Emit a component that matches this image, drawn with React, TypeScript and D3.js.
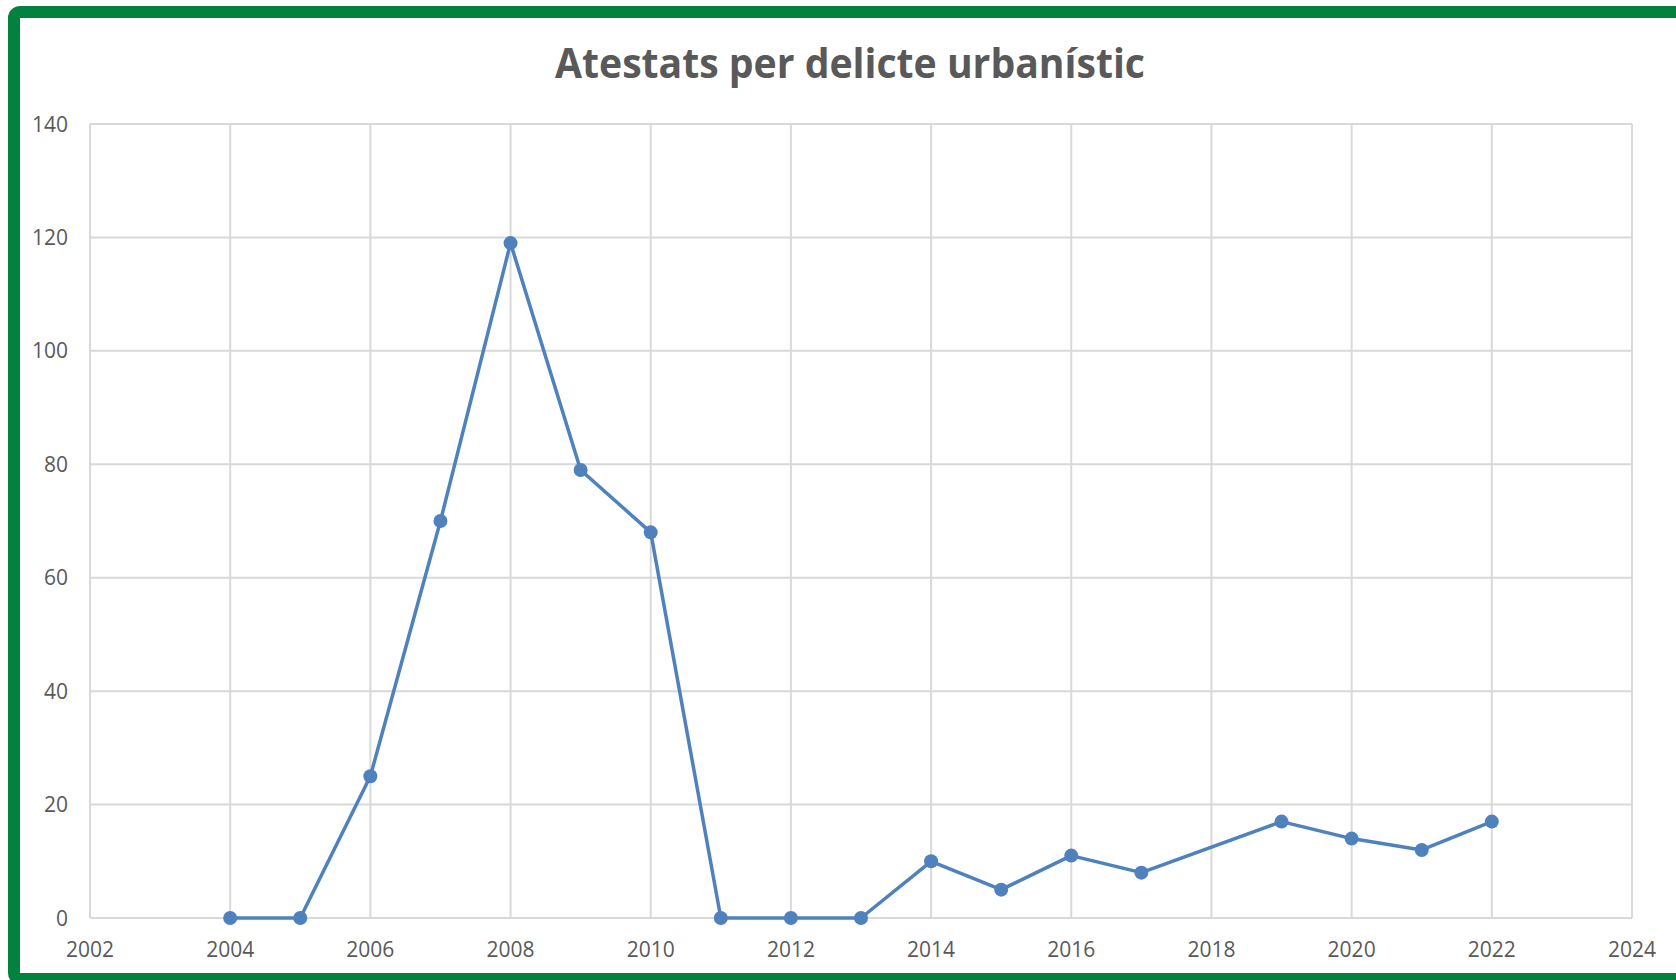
import React from 'react'
import * as d3 from 'd3'

// values (2018 has no point, the line joins 2017 to 2019)
const years = [2004, 2005, 2006, 2007, 2008, 2009, 2010, 2011, 2012, 2013, 2014, 2015, 2016, 2017, 2019, 2020, 2021, 2022]
const atestats = [0, 0, 25, 70, 119, 79, 68, 0, 0, 0, 10, 5, 11, 8, 17, 14, 12, 17]
const xTicks = [2002, 2004, 2006, 2008, 2010, 2012, 2014, 2016, 2018, 2020, 2022, 2024]
const yTicks = [0, 20, 40, 60, 80, 100, 120, 140]
const title = 'Atestats per delicte urbanístic'

const W = 1676
const H = 980
const font = '"Open Sans", sans-serif'
const textColor = '#595959'
const lineColor = '#4f81bd'

const App = () => {
  const x = d3.scaleLinear().domain([2002, 2024]).range([90, 1632])
  const y = d3.scaleLinear().domain([0, 140]).range([918, 124])

  const points = years.map((yr, i) => [yr, atestats[i]] as [number, number])
  const line = d3.line<[number, number]>()
    .x(d => x(d[0]))
    .y(d => y(d[1]))

  return (
    <svg width={W} height={H} style={{ position: 'absolute', left: 0, top: 0, background: '#fff' }}>
      {/* green frame, cut off at right and bottom */}
      <rect x={14} y={12} width={W + 20} height={967} rx={6} fill="#fff" stroke="#03823f" strokeWidth={12} />

      <text x={850} y={78} textAnchor="middle" fontFamily={font} fontWeight="bold" fontSize={41}
        fill={textColor} textLength={590} lengthAdjust="spacingAndGlyphs">{title}</text>

      {/* gridlines */}
      {yTicks.map(t => (
        <line key={'h' + t} x1={x(2002)} x2={x(2024)} y1={y(t)} y2={y(t)} stroke="#d9d9d9" strokeWidth={2} />
      ))}
      {xTicks.map(t => (
        <line key={'v' + t} x1={x(t)} x2={x(t)} y1={y(0)} y2={y(140)} stroke="#d9d9d9" strokeWidth={2} />
      ))}

      {/* axis labels */}
      {yTicks.map(t => (
        <text key={'yl' + t} x={68} y={y(t)} dy="0.36em" textAnchor="end" fontFamily={font} fontSize={21} fill={textColor}>{t}</text>
      ))}
      {xTicks.map(t => (
        <text key={'xl' + t} x={x(t)} y={957} textAnchor="middle" fontFamily={font} fontSize={21} fill={textColor}>{t}</text>
      ))}

      <path d={line(points) || ''} fill="none" stroke={lineColor} strokeWidth={3.5} strokeLinejoin="round" />
      {points.map((p, i) => (
        <circle key={i} cx={x(p[0])} cy={y(p[1])} r={7} fill={lineColor} />
      ))}
    </svg>
  )
}

export default App
